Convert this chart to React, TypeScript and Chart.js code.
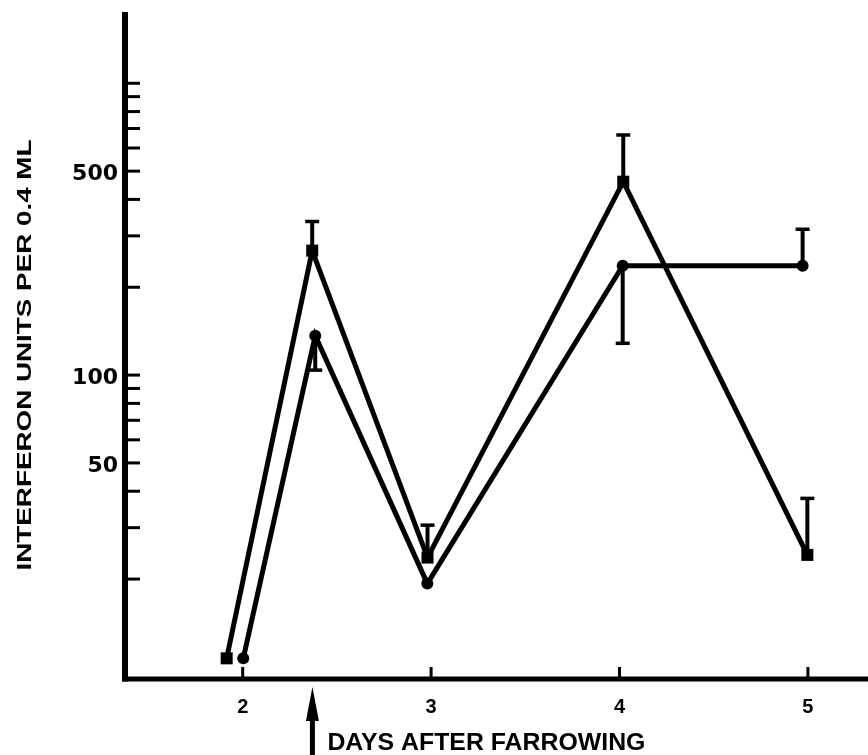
import React, { useEffect, useRef } from "react";
import { Chart, registerables } from "chart.js";

Chart.register(...registerables);

// ---- data ----
const squareDays = [1.915, 2.369, 2.981, 4.02, 4.997];
const squareValues = [10.7, 267, 23.7, 460, 24.2];
const squareErrUpper = [null, 336, 30.6, 665, 37.8];

const circleDays = [2.003, 2.385, 2.98, 4.017, 4.972];
const circleValues = [10.7, 136.5, 19.3, 237, 237];
const circleErrLower = [null, 104, null, 128.5, null];
const circleErrUpper = [null, null, null, null, 316];

const xTickDays = [2, 3, 4, 5];
const yMinorTicks = [20, 30, 40, 50, 60, 70, 80, 90, 100, 200, 300, 400, 500, 600, 700, 800, 900, 1000];
const yLabelTicks = [50, 100, 500];
const injectionDay = 2.37;
const xTitle = "DAYS AFTER FARROWING";
const yTitle = "INTERFERON UNITS PER 0.4 ML";

const X_MIN = 1.3753;
const X_MAX = 5.319;
const Y_MIN = 9.09;
const Y_MAX = 1755;

function drawFitted(ctx: CanvasRenderingContext2D, text: string, width: number) {
  const w = ctx.measureText(text).width;
  ctx.save();
  ctx.scale(width / w, 1);
  ctx.fillText(text, 0, 0);
  ctx.restore();
}

const customPlugin = {
  id: "customAxes",
  beforeDatasetsDraw(chart: any) {
    const ctx: CanvasRenderingContext2D = chart.ctx;
    const xs = chart.scales.x;
    const ys = chart.scales.y;
    const area = chart.chartArea;
    ctx.save();
    ctx.strokeStyle = "#000";
    ctx.fillStyle = "#000";
    ctx.lineCap = "butt";

    // axis lines
    ctx.lineWidth = 6;
    ctx.beginPath();
    ctx.moveTo(area.left, area.top);
    ctx.lineTo(area.left, area.bottom + 2.5);
    ctx.stroke();
    ctx.lineWidth = 5;
    ctx.beginPath();
    ctx.moveTo(area.left - 3, area.bottom);
    ctx.lineTo(chart.width, area.bottom);
    ctx.stroke();

    // y ticks (inside)
    ctx.lineWidth = 3;
    yMinorTicks.forEach((v) => {
      const y = ys.getPixelForValue(v);
      ctx.beginPath();
      ctx.moveTo(area.left, y);
      ctx.lineTo(area.left + 15, y);
      ctx.stroke();
    });
    // x ticks (inside)
    xTickDays.forEach((d) => {
      const x = xs.getPixelForValue(d);
      ctx.beginPath();
      ctx.moveTo(x, area.bottom);
      ctx.lineTo(x, area.bottom - 12);
      ctx.stroke();
    });

    // error bars
    const drawBar = (day: number, from: number, to: number) => {
      const x = xs.getPixelForValue(day);
      const y1 = ys.getPixelForValue(from);
      const y2 = ys.getPixelForValue(to);
      ctx.lineWidth = 4;
      ctx.beginPath();
      ctx.moveTo(x, y1);
      ctx.lineTo(x, y2);
      ctx.stroke();
      ctx.lineWidth = 3.5;
      ctx.beginPath();
      ctx.moveTo(x - 7, y2);
      ctx.lineTo(x + 7, y2);
      ctx.stroke();
    };
    squareErrUpper.forEach((e, i) => {
      if (e != null) drawBar(squareDays[i], squareValues[i], e);
    });
    circleErrLower.forEach((e, i) => {
      if (e != null) drawBar(circleDays[i], circleValues[i], e);
    });
    circleErrUpper.forEach((e, i) => {
      if (e != null) drawBar(circleDays[i], circleValues[i], e);
    });
    ctx.restore();
  },
  afterDraw(chart: any) {
    const ctx: CanvasRenderingContext2D = chart.ctx;
    const xs = chart.scales.x;
    const ys = chart.scales.y;
    const area = chart.chartArea;
    ctx.save();
    ctx.fillStyle = "#000";

    // y tick labels
    ctx.font = "bold 22px 'DejaVu Sans'";
    ctx.textAlign = "right";
    ctx.textBaseline = "alphabetic";
    yLabelTicks.forEach((v) => {
      const y = ys.getPixelForValue(v);
      ctx.fillText(String(v), area.left - 7, y + 9);
    });

    // x tick labels
    ctx.font = "bold 20px 'Liberation Sans'";
    ctx.textAlign = "center";
    xTickDays.forEach((d) => {
      const x = xs.getPixelForValue(d);
      ctx.fillText(String(d), x, area.bottom + 34);
    });

    // arrow
    const ax = xs.getPixelForValue(injectionDay);
    ctx.beginPath();
    ctx.moveTo(ax, area.bottom + 8);
    ctx.lineTo(ax - 6.5, area.bottom + 42);
    ctx.lineTo(ax + 6.5, area.bottom + 42);
    ctx.closePath();
    ctx.fill();
    ctx.fillRect(ax - 2.5, area.bottom + 38, 5, chart.height - area.bottom - 38);

    // x title
    ctx.font = "bold 24px 'Liberation Sans'";
    ctx.textAlign = "left";
    ctx.save();
    ctx.translate(ax + 15, area.bottom + 71);
    drawFitted(ctx, xTitle, 318);
    ctx.restore();

    // y title
    ctx.font = "bold 21px 'Liberation Sans'";
    ctx.textAlign = "center";
    ctx.save();
    ctx.translate(30.5, 355);
    ctx.rotate(-Math.PI / 2);
    drawFitted(ctx, yTitle, 431);
    ctx.restore();

    ctx.restore();
  },
};

export default function App() {
  const ref = useRef<HTMLCanvasElement | null>(null);
  useEffect(() => {
    if (!ref.current) return;
    const chart = new Chart(ref.current, {
      type: "scatter",
      data: {
        datasets: [
          {
            label: "squares",
            data: squareDays.map((d, i) => ({ x: d, y: squareValues[i] })),
            showLine: true,
            borderColor: "#000",
            backgroundColor: "#000",
            borderWidth: 5,
            pointStyle: "rect",
            pointRadius: 8.5,
            pointBorderWidth: 0,
            pointBackgroundColor: "#000",
            tension: 0,
            clip: false,
          },
          {
            label: "circles",
            data: circleDays.map((d, i) => ({ x: d, y: circleValues[i] })),
            showLine: true,
            borderColor: "#000",
            backgroundColor: "#000",
            borderWidth: 5,
            pointStyle: "circle",
            pointRadius: 6,
            pointBorderWidth: 0,
            pointBackgroundColor: "#000",
            tension: 0,
            clip: false,
          },
        ],
      },
      options: {
        responsive: false,
        animation: false,
        devicePixelRatio: 1,
        layout: { autoPadding: false, padding: { left: 125, top: 12, right: 0, bottom: 76 } },
        plugins: { legend: { display: false }, tooltip: { enabled: false } },
        events: [],
        scales: {
          x: { type: "linear", min: X_MIN, max: X_MAX, display: false },
          y: { type: "logarithmic", min: Y_MIN, max: Y_MAX, display: false },
        },
      },
      plugins: [customPlugin],
    });
    return () => chart.destroy();
  }, []);
  return (
    <div style={{ position: "fixed", left: 0, top: 0, width: 868, height: 755, background: "#fff" }}>
      <canvas ref={ref} width={868} height={755} style={{ width: 868, height: 755 }} />
    </div>
  );
}
